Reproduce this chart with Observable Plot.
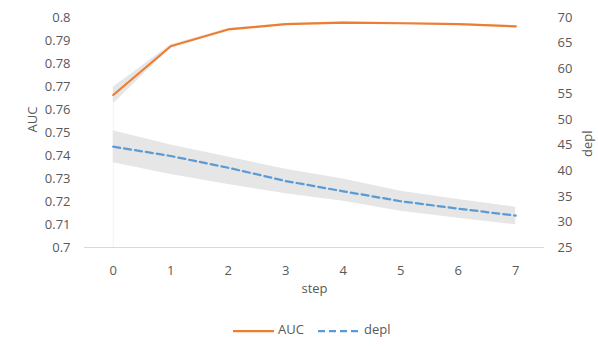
<!DOCTYPE html>
<html>
<head>
<meta charset="utf-8">
<script src="https://cdn.jsdelivr.net/npm/d3@7"></script>
<script src="https://cdn.jsdelivr.net/npm/@observablehq/plot@0.6"></script>
<style>
  html, body { margin: 0; padding: 0; background: #fff; }
  #wrap { position: relative; width: 598px; height: 346px; font-family: "Open Sans", sans-serif; }
  #legend { position: absolute; left: 0; top: 312px; width: 598px; height: 34px; }
  .lg { position: absolute; font-size: 13px; color: #595959; line-height: 13px; }
</style>
</head>
<body>
<div id="wrap"><div id="chart"></div><div id="legend"></div></div>
<script>
const steps = [0, 1, 2, 3, 4, 5, 6, 7];
const aucMean = [0.7663, 0.7875, 0.7948, 0.7971, 0.7978, 0.7975, 0.7971, 0.7961];
const aucLo   = [0.7624, 0.7868, 0.7944, 0.7968, 0.7975, 0.7972, 0.7968, 0.7958];
const aucHi   = [0.7697, 0.7882, 0.7952, 0.7974, 0.7981, 0.7978, 0.7974, 0.7964];
const deplMean = [44.73, 42.9, 40.6, 38.0, 36.0, 34.05, 32.6, 31.24];
const deplLo   = [41.59, 39.3, 37.33, 35.5, 34.05, 32.1, 30.7, 29.46];
const deplHi   = [47.83, 45.07, 42.7, 40.3, 38.4, 36.0, 34.4, 32.87];
const aucTicks = [0.7, 0.71, 0.72, 0.73, 0.74, 0.75, 0.76, 0.77, 0.78, 0.79, 0.8];
const deplTicks = [25, 30, 35, 40, 45, 50, 55, 60, 65, 70];
const seriesNames = ["AUC", "depl"];
const seriesColors = ["#ED7D31", "#5B9BD5"];

// map depl (right axis, 25..70) onto the AUC scale (0.7..0.8)
const toAuc = d => 0.7 + (d - 25) / 45 * 0.1;
const fromAuc = v => 25 + (v - 0.7) / 0.1 * 45;

const data = steps.map((s, i) => ({
  step: s,
  auc: aucMean[i], aucLo: aucLo[i], aucHi: aucHi[i],
  depl: toAuc(deplMean[i]), deplLo: toAuc(deplLo[i]), deplHi: toAuc(deplHi[i])
}));

const chart = Plot.plot({
  width: 598,
  height: 312,
  marginLeft: 84,
  marginRight: 54,
  marginTop: 17,
  marginBottom: 65,
  x: { domain: [-0.5, 7.5] },
  y: { domain: [0.7, 0.8] },
  style: { fontFamily: "'Open Sans', sans-serif", fontSize: "13px", color: "#595959", background: "#fff" },
  marks: [
    Plot.axisY({ ticks: aucTicks, tickSize: 0, tickPadding: 14, tickFormat: d => String(+d.toFixed(2)), label: null }),
    Plot.axisY({ anchor: "right", ticks: deplTicks.map(toAuc), tickSize: 0, tickPadding: 13,
                 tickFormat: d => String(Math.round(fromAuc(d))), label: null }),
    Plot.axisX({ ticks: steps, tickSize: 0, tickPadding: 18, label: null }),
    Plot.ruleX([0], { y1: 0.7, y2: aucLo[0], stroke: "#f3f3f3", strokeWidth: 1 }),
    Plot.areaY(data, { x: "step", y1: "aucLo", y2: "aucHi", fill: "#E7E6E6" }),
    Plot.areaY(data, { x: "step", y1: "deplLo", y2: "deplHi", fill: "#E7E6E6" }),
    Plot.ruleY([0.7], { stroke: "#D9D9D9", strokeWidth: 1 }),
    Plot.line(data, { x: "step", y: "auc", stroke: seriesColors[0], strokeWidth: 2.25 }),
    Plot.line(data, { x: "step", y: "depl", stroke: seriesColors[1], strokeWidth: 2.25, strokeDasharray: "7,4" }),
    Plot.text(["AUC"], { text: d => d, frameAnchor: "left", dx: -52, rotate: -90, fontSize: 13, fill: "#595959" }),
    Plot.text(["depl"], { text: d => d, frameAnchor: "right", dx: 43, dy: -2, rotate: -90, fontSize: 13, fill: "#595959" }),
    Plot.text(["step"], { text: d => d, frameAnchor: "bottom", dy: 45, fontSize: 13, fill: "#595959" })
  ]
});
document.getElementById("chart").appendChild(chart);

// legend below the plot
const legend = document.getElementById("legend");
const items = [
  { name: seriesNames[0], color: seriesColors[0], dash: null, x0: 233, w: 41, tx: 278 },
  { name: seriesNames[1], color: seriesColors[1], dash: "7,4", x0: 318, w: 40, tx: 364 }
];
for (const it of items) {
  const sw = document.createElementNS("http://www.w3.org/2000/svg", "svg");
  sw.setAttribute("width", it.w);
  sw.setAttribute("height", 6);
  sw.style.position = "absolute";
  sw.style.left = it.x0 + "px";
  sw.style.top = (331 - 312 - 3) + "px";
  const ln = document.createElementNS("http://www.w3.org/2000/svg", "line");
  ln.setAttribute("x1", 0); ln.setAttribute("x2", it.w);
  ln.setAttribute("y1", 3); ln.setAttribute("y2", 3);
  ln.setAttribute("stroke", it.color);
  ln.setAttribute("stroke-width", 2.25);
  if (it.dash) ln.setAttribute("stroke-dasharray", it.dash);
  sw.appendChild(ln);
  legend.appendChild(sw);
  const t = document.createElement("span");
  t.className = "lg";
  t.textContent = it.name;
  t.style.left = it.tx + "px";
  t.style.top = (331 - 312 - 8) + "px";
  legend.appendChild(t);
}
</script>
</body>
</html>
